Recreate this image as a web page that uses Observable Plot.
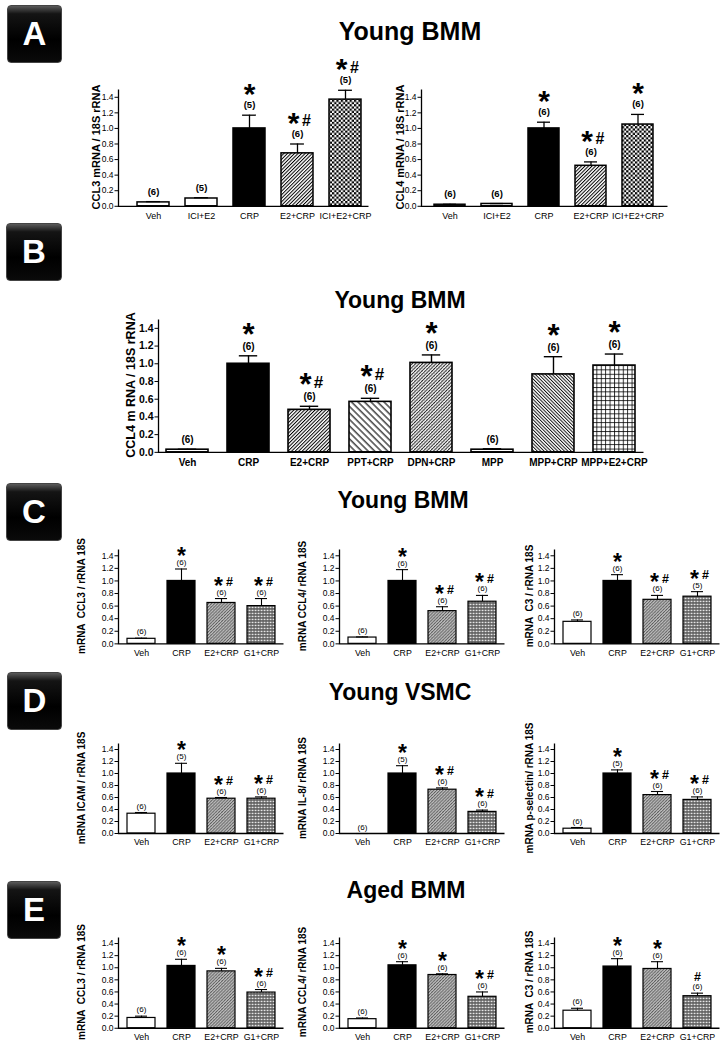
<!DOCTYPE html>
<html><head><meta charset="utf-8">
<script src="https://cdn.jsdelivr.net/npm/d3@7"></script>
<script src="https://cdn.jsdelivr.net/npm/@observablehq/plot@0.6"></script>
<style>
html,body{margin:0;padding:0;background:#fff;}
#fig{position:relative;width:721px;height:1048px;overflow:hidden;background:#fff;font-family:"Liberation Sans",Arial,Helvetica,sans-serif;}
.box{position:absolute;border-radius:4px;background:linear-gradient(to bottom,#5a5a5a 0%,#141414 14%,#000 60%,#0a0a0a 100%);border:1px solid #444;box-sizing:border-box;color:#fff;font-weight:bold;display:flex;align-items:center;justify-content:center;}
.title{position:absolute;font-weight:bold;white-space:nowrap;transform:translateX(-50%);line-height:1;color:#000;}
.ylab{position:absolute;font-weight:bold;white-space:pre;line-height:1;color:#000;transform:translate(-50%,-50%) rotate(-90deg);}
</style></head><body>
<svg width="0" height="0" style="position:absolute;left:0;top:0">
<defs>
<pattern id="hatch" patternUnits="userSpaceOnUse" width="2.5" height="2.5" patternTransform="rotate(45)">
<rect width="2.5" height="2.5" fill="#fff"/><line x1="0.5" y1="0" x2="0.5" y2="2.5" stroke="#000" stroke-width="1"/></pattern>
<pattern id="checker" patternUnits="userSpaceOnUse" width="4.4" height="4.4">
<rect width="4.4" height="4.4" fill="#fff"/><rect width="2.2" height="2.2" fill="#000"/><rect x="2.2" y="2.2" width="2.2" height="2.2" fill="#000"/></pattern>
<pattern id="backWide" patternUnits="userSpaceOnUse" width="4.6" height="4.6" patternTransform="rotate(-45)">
<rect width="4.6" height="4.6" fill="#fff"/><line x1="1" y1="0" x2="1" y2="4.6" stroke="#000" stroke-width="1.1"/></pattern>
<pattern id="backFine" patternUnits="userSpaceOnUse" width="2.4" height="2.4" patternTransform="rotate(-45)">
<rect width="2.4" height="2.4" fill="#fff"/><line x1="0.5" y1="0" x2="0.5" y2="2.4" stroke="#000" stroke-width="0.9"/></pattern>
<pattern id="cross" patternUnits="userSpaceOnUse" width="2.4" height="2.4" patternTransform="rotate(45)">
<rect width="2.4" height="2.4" fill="#fff"/><line x1="0.5" y1="0" x2="0.5" y2="2.4" stroke="#000" stroke-width="0.8"/><line x1="0" y1="0.5" x2="2.4" y2="0.5" stroke="#777" stroke-width="0.4"/></pattern>
<pattern id="grid" patternUnits="userSpaceOnUse" width="4.4" height="4.4">
<rect width="4.4" height="4.4" fill="#fff"/><line x1="0.5" y1="0" x2="0.5" y2="4.4" stroke="#000" stroke-width="0.8"/><line x1="0" y1="0.5" x2="4.4" y2="0.5" stroke="#000" stroke-width="0.8"/></pattern>
<pattern id="grayHatch" patternUnits="userSpaceOnUse" width="2.2" height="2.2" patternTransform="rotate(45)">
<rect width="2.2" height="2.2" fill="#c4c4c4"/><line x1="0.5" y1="0" x2="0.5" y2="2.2" stroke="#3a3a3a" stroke-width="0.7"/><line x1="0" y1="0.5" x2="2.2" y2="0.5" stroke="#8a8a8a" stroke-width="0.4"/></pattern>
<pattern id="mesh" patternUnits="userSpaceOnUse" width="3" height="3">
<rect width="3" height="3" fill="#5a5a5a"/><rect x="0.6" y="0.7" width="1.9" height="1.5" fill="#e6e6e6"/></pattern>
</defs></svg>
<div id="fig"></div>
<script>
// ---------------- data ----------------
const yTicks = [0, 0.2, 0.4, 0.6, 0.8, 1.0, 1.2, 1.4];

const catsA = ["Veh", "ICI+E2", "CRP", "E2+CRP", "ICI+E2+CRP"];
const a1Mean = [0.05, 0.10, 1.00, 0.68, 1.37];
const a1Err  = [0.01, 0.01, 0.17, 0.12, 0.12];
const a1N    = [6, 5, 5, 6, 5];
const a1Sig  = ["", "", "*", "*#", "*#"];
const a2Mean = [0.02, 0.03, 1.00, 0.52, 1.05];
const a2Err  = [0.005, 0.005, 0.08, 0.05, 0.13];
const a2N    = [6, 6, 6, 6, 6];
const a2Sig  = ["", "", "*", "*#", "*"];

const catsB = ["Veh", "CRP", "E2+CRP", "PPT+CRP", "DPN+CRP", "MPP", "MPP+CRP", "MPP+E2+CRP"];
const bMean = [0.03, 1.00, 0.48, 0.57, 1.01, 0.03, 0.88, 0.98];
const bErr  = [0.005, 0.09, 0.04, 0.04, 0.09, 0.01, 0.20, 0.13];
const bN    = [6, 6, 6, 6, 6, 6, 6, 6];
const bSig  = ["", "*", "*#", "*#", "*", "", "*", "*"];

const catsG = ["Veh", "CRP", "E2+CRP", "G1+CRP"];
const c1Mean = [0.08, 1.00, 0.65, 0.60], c1Err = [0.01, 0.19, 0.07, 0.12], c1N = [6, 6, 6, 6], c1Sig = ["", "*", "*#", "*#"];
const c2Mean = [0.10, 1.00, 0.52, 0.67], c2Err = [0.01, 0.18, 0.07, 0.10], c2N = [6, 6, 6, 6], c2Sig = ["", "*", "*#", "*#"];
const c3Mean = [0.35, 1.00, 0.70, 0.75], c3Err = [0.03, 0.10, 0.07, 0.08], c3N = [6, 6, 6, 5], c3Sig = ["", "*", "*#", "*#"];
const d1Mean = [0.33, 1.00, 0.58, 0.58], d1Err = [0.02, 0.17, 0.02, 0.03], d1N = [6, 5, 6, 6], d1Sig = ["", "*", "*#", "*#"];
const d2Mean = [0.00, 1.00, 0.73, 0.36], d2Err = [0.00, 0.13, 0.03, 0.03], d2N = [6, 5, 6, 6], d2Sig = ["", "*", "*#", "*#"];
const d3Mean = [0.08, 1.00, 0.64, 0.56], d3Err = [0.02, 0.06, 0.06, 0.05], d3N = [6, 5, 6, 6], d3Sig = ["", "*", "*#", "*#"];
const e1Mean = [0.17, 1.03, 0.94, 0.59], e1Err = [0.03, 0.11, 0.05, 0.05], e1N = [6, 6, 6, 6], e1Sig = ["", "*", "*", "*#"];
const e2Mean = [0.15, 1.04, 0.88, 0.52], e2Err = [0.02, 0.06, 0.02, 0.08], e2N = [6, 6, 6, 6], e2Sig = ["", "*", "*", "*#"];
const e3Mean = [0.29, 1.02, 0.98, 0.53], e3Err = [0.04, 0.13, 0.12, 0.05], e3N = [6, 6, 6, 6], e3Sig = ["", "*", "*", "#"];

// ---------------- styles ----------------
const FONT = '"Liberation Sans", Arial, Helvetica, sans-serif';
const fillsAB = {
  "Veh": "white", "ICI+E2": "white", "MPP": "white", "CRP": "black",
  "E2+CRP": "url(#hatch)", "ICI+E2+CRP": "url(#checker)", "PPT+CRP": "url(#backWide)",
  "DPN+CRP": "url(#cross)", "MPP+CRP": "url(#backFine)", "MPP+E2+CRP": "url(#grid)"
};
const fillsG = {"Veh": "white", "CRP": "black", "E2+CRP": "url(#grayHatch)", "G1+CRP": "url(#mesh)"};

const typeA = {tick: 8.5, tickW: "normal", xl: 9, xlW: "normal", xPad: 6.5, yl: 11, n: 9.5, nW: "bold",
  star: 30, hash: 16, nDy: -7, starDy: -11, hashDy: -17.5, starDx: -4, hashDx: 9, bar: 1.5, err: 1.3};
const typeB = {tick: 10.5, tickW: "bold", xl: 10, xlW: "bold", xPad: 6.5, yl: 12.5, n: 10, nW: "bold",
  star: 31, hash: 17, nDy: -6, starDy: -11, hashDy: -18, starDx: -4, hashDx: 9, bar: 1.6, err: 1.4};
const typeG = {tick: 8.5, tickW: "normal", xl: 8.8, xlW: "normal", xPad: 5.5, yl: 10, n: 8, nW: "normal",
  star: 23, hash: 12.5, nDy: -4, starDy: -5, hashDy: -12.5, starDx: -3, hashDx: 8, bar: 1.2, err: 1.1};

const fig = document.getElementById("fig");

function addBox(letter, x, y, w, h) {
  const d = document.createElement("div");
  d.className = "box";
  Object.assign(d.style, {left: x + "px", top: y + "px", width: w + "px", height: h + "px", fontSize: "33px"});
  d.textContent = letter;
  fig.appendChild(d);
}
function addTitle(text, cx, baseline, size) {
  const d = document.createElement("div");
  d.className = "title";
  Object.assign(d.style, {left: cx + "px", top: (baseline - 0.8465 * size) + "px", fontSize: size + "px"});
  d.textContent = text;
  fig.appendChild(d);
}
function addYLabel(text, cx, cy, size) {
  const d = document.createElement("div");
  d.className = "ylab";
  Object.assign(d.style, {left: cx + "px", top: cy + "px", fontSize: size + "px"});
  d.textContent = text;
  fig.appendChild(d);
}

function barChart(cfg) {
  const {cats, mean, err, n, sig, fills, left, right, y0, ppu, po, pi, align = 0.5, ylabel, ylabelDx, t} = cfg;
  const mt = 42, mb = 26, ml = 50, mr = 6;
  const fw = right - left, fh = 1.5 * ppu;
  const data = cats.map((c, i) => ({cat: c, mean: mean[i], top: mean[i] + err[i], n: n[i], sig: sig[i]}));
  const both = data.filter(d => d.sig.includes("*") && d.sig.includes("#"));
  const starOnly = data.filter(d => d.sig === "*");
  const hashOnly = data.filter(d => d.sig === "#");
  const step = fw / (cats.length - pi + 2 * po);
  const bw = step * (1 - pi);
  const capInset = bw * 0.28;
  const svg = Plot.plot({
    width: ml + fw + mr, height: mt + fh + mb,
    marginLeft: ml, marginRight: mr, marginTop: mt, marginBottom: mb,
    style: {fontFamily: FONT, color: "black", background: "transparent", overflow: "visible"},
    x: {domain: cats, paddingInner: pi, paddingOuter: po, align, label: null},
    y: {domain: [0, 1.5], label: null},
    color: {type: "identity"},
    marks: [
      Plot.barY(data, {x: "cat", y: "mean", fill: d => fills[d.cat], stroke: "black", strokeWidth: t.bar}),
      Plot.ruleX(data, {x: "cat", y1: "mean", y2: "top", stroke: "black", strokeWidth: t.err}),
      Plot.tickY(data, {x: "cat", y: "top", stroke: "black", strokeWidth: t.err, insetLeft: capInset, insetRight: capInset}),
      Plot.frame({stroke: "black", strokeWidth: 1.3, strokeDasharray: `0 ${fw + fh} ${fw + fh}`}),
      Plot.axisY(yTicks, {tickSize: 3.5, tickPadding: 1.5, tickFormat: d => d.toFixed(1), fontSize: t.tick, fontWeight: t.tickW, strokeWidth: 1, label: null}),
      Plot.axisX({tickSize: 0, tickPadding: t.xPad, fontSize: t.xl, fontWeight: t.xlW, label: null}),
      Plot.text(data, {x: "cat", y: "top", text: d => `(${d.n})`, lineAnchor: "bottom", dy: t.nDy, fontSize: t.n, fontWeight: t.nW}),
      Plot.text(starOnly, {x: "cat", y: "top", text: () => "*", lineAnchor: "bottom", dy: t.starDy, fontSize: t.star, fontWeight: "bold"}),
      Plot.text(both, {x: "cat", y: "top", text: () => "*", lineAnchor: "bottom", dx: t.starDx, dy: t.starDy, fontSize: t.star, fontWeight: "bold"}),
      Plot.text(both, {x: "cat", y: "top", text: () => "#", lineAnchor: "bottom", dx: t.hashDx, dy: t.hashDy, fontSize: t.hash, fontWeight: "bold"}),
      Plot.text(hashOnly, {x: "cat", y: "top", text: () => "#", lineAnchor: "bottom", dy: t.hashDy, fontSize: t.hash, fontWeight: "bold"})
    ]
  });
  svg.style.position = "absolute";
  svg.style.left = (left - ml) + "px";
  svg.style.top = (y0 - fh - mt) + "px";
  fig.appendChild(svg);
  addYLabel(ylabel, left - ylabelDx, y0 - fh / 2, t.yl);
}

// ---------------- layout ----------------
addBox("A", 7, 5, 55, 58);
addTitle("Young BMM", 410, 40, 25);
barChart({cats: catsA, mean: a1Mean, err: a1Err, n: a1N, sig: a1Sig, fills: fillsAB, left: 118, right: 368, y0: 205.7, ppu: 77.86, po: 0.25, pi: 0.33, align: 0.75, ylabel: "CCL3 mRNA / 18S rRNA", ylabelDx: 22, t: typeA});
barChart({cats: catsA, mean: a2Mean, err: a2Err, n: a2N, sig: a2Sig, fills: fillsAB, left: 421, right: 667, y0: 205.7, ppu: 77.86, po: 0.23, pi: 0.33, ylabel: "CCL4 mRNA / 18S rRNA", ylabelDx: 21, t: typeA});

addBox("B", 6, 223, 56, 58);
addTitle("Young BMM", 400, 308, 23);
barChart({cats: catsB, mean: bMean, err: bErr, n: bN, sig: bSig, fills: fillsAB, left: 158, right: 643, y0: 451.7, ppu: 88.57, po: 0.12, pi: 0.31, ylabel: "CCL4 m RNA / 18S rRNA", ylabelDx: 27, t: typeB});

const cols = [118, 339, 554];
const colW = 165;
const gDx = [36, 36, 24];

addBox("C", 6, 483, 56, 58);
addTitle("Young BMM", 403, 508, 23);
[[c1Mean, c1Err, c1N, c1Sig, "mRNA  CCL3 / rRNA 18S"], [c2Mean, c2Err, c2N, c2Sig, "mRNA CCL4/ rRNA 18S"], [c3Mean, c3Err, c3N, c3Sig, "mRNA  C3 / rRNA 18S"]]
  .forEach(([m, e, nn, s, lab], i) => barChart({cats: catsG, mean: m, err: e, n: nn, sig: s, fills: fillsG, left: cols[i], right: cols[i] + colW, y0: 643, ppu: 62.9, po: 0.18, pi: 0.3, ylabel: lab, ylabelDx: gDx[i], t: typeG}));

addBox("D", 7, 672, 55, 58);
addTitle("Young VSMC", 400, 700, 23);
[[d1Mean, d1Err, d1N, d1Sig, "mRNA ICAM / rRNA 18S"], [d2Mean, d2Err, d2N, d2Sig, "mRNA IL-8/ rRNA 18S"], [d3Mean, d3Err, d3N, d3Sig, "mRNA p-selectin/ rRNA 18S"]]
  .forEach(([m, e, nn, s, lab], i) => barChart({cats: catsG, mean: m, err: e, n: nn, sig: s, fills: fillsG, left: cols[i], right: cols[i] + colW, y0: 833, ppu: 60, po: 0.18, pi: 0.3, ylabel: lab, ylabelDx: gDx[i], t: typeG}));

addBox("E", 7, 881, 54, 58);
addTitle("Aged BMM", 406, 898, 23);
[[e1Mean, e1Err, e1N, e1Sig, "mRNA  CCL3 / rRNA 18S"], [e2Mean, e2Err, e2N, e2Sig, "mRNA CCL4/ rRNA 18S"], [e3Mean, e3Err, e3N, e3Sig, "mRNA  C3 / rRNA 18S"]]
  .forEach(([m, e, nn, s, lab], i) => barChart({cats: catsG, mean: m, err: e, n: nn, sig: s, fills: fillsG, left: cols[i], right: cols[i] + colW, y0: 1027.3, ppu: 60.5, po: 0.18, pi: 0.3, ylabel: lab, ylabelDx: gDx[i], t: typeG}));
</script>
</body></html>
